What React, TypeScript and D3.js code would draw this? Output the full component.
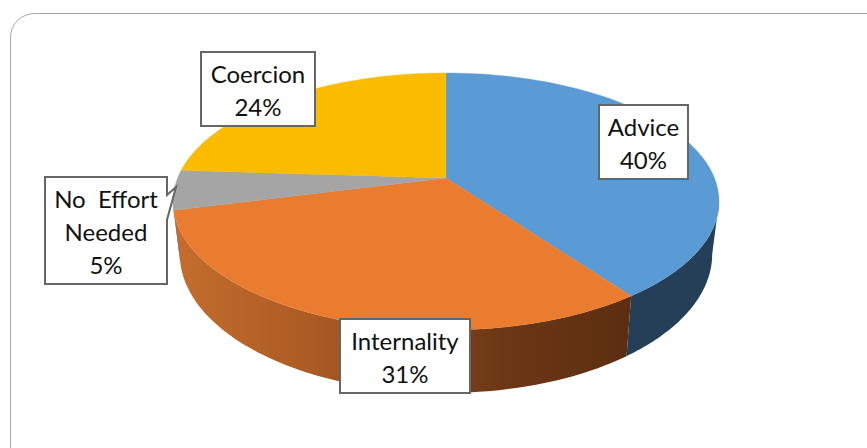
import React from "react";
import * as d3 from "d3";

// Category shares of the pie, clockwise from twelve o'clock
const categories = ["Advice", "Internality", "No Effort Needed", "Coercion"];
const shares = [40, 31, 5, 24];
const labelLines = [["Advice"], ["Internality"], ["No  Effort", "Needed"], ["Coercion"]];

const topColors = ["#5B9BD5", "#EA7C30", "#A5A5A5", "#FBBC00"];
const wallFills = ["#243F57", "url(#wall-orange)", "#6E6E6E", "#8A6A00"];
const orangeWallStops: [number, string][] = [
  [0, "#C56D2D"],
  [0.3, "#AC5B24"],
  [0.55, "#84461B"],
  [0.72, "#6B3716"],
  [1, "#5C2E10"],
];

const W = 867;
const H = 448;
const FONT = "Lato, 'Open Sans', sans-serif";

// Perspective of the disc: far rim is compressed, the centre sits above the ellipse middle
const cx = 446;
const cy = 178;
const tilt = 0.183;
const radiusX = 268.4;
const radiusY = 124.2;
const wallFrontTop = 331;
const wallFrontBottom = 394;
const wallScaleX = 0.975;
const wallScaleY = 1.08;

const rim = (theta: number): [number, number] => {
  const w = 1 + tilt * Math.cos(theta);
  return [cx + (radiusX * Math.sin(theta)) / w, cy - (radiusY * Math.cos(theta)) / w];
};
const floorRim = (theta: number): [number, number] => {
  const [x, y] = rim(theta);
  return [cx + wallScaleX * (x - cx), wallFrontBottom - wallScaleY * (wallFrontTop - y)];
};

const sweep = (a: number, b: number): number[] =>
  d3.range(0, 81).map((i) => a + ((b - a) * i) / 80);

const line = d3.line<[number, number]>();

// The wall shows between the two silhouette tangents of the disc
const wallStart = Math.acos(-tilt);
const wallEnd = 2 * Math.PI - wallStart;

const arcs = d3
  .pie<number>()
  .value((d) => d)
  .sort(null)
  .startAngle(0)
  .endAngle(2 * Math.PI)(shares);

// Label boxes, with an optional callout notch on the right side
const boxes = [
  { x: 599, y: 105, w: 89, h: 74 },
  { x: 340, y: 319, w: 130, h: 74 },
  { x: 45, y: 177, w: 122, h: 107, notch: [[167, 195], [176, 187], [167, 220]] },
  { x: 201, y: 52, w: 114, h: 74 },
];

const boxPath = (b: (typeof boxes)[number]): string => {
  const pts: [number, number][] = [[b.x, b.y], [b.x + b.w, b.y]];
  if (b.notch) b.notch.forEach((p) => pts.push(p as [number, number]));
  pts.push([b.x + b.w, b.y + b.h], [b.x, b.y + b.h]);
  return (line(pts) as string) + "Z";
};

export default function App() {
  return (
    <svg
      width={W}
      height={H}
      viewBox={`0 0 ${W} ${H}`}
      style={{ position: "absolute", left: 0, top: 0, background: "#fff" }}
    >
      <defs>
        <linearGradient id="wall-orange" gradientUnits="userSpaceOnUse" x1={173} y1={0} x2={632} y2={0}>
          {orangeWallStops.map(([o, c]) => (
            <stop key={o} offset={o} stopColor={c} />
          ))}
        </linearGradient>
      </defs>

      {/* chart frame, running off the right and bottom edges */}
      <rect x={10.5} y={13.5} width={1000} height={600} rx={24} fill="#fff" stroke="#A6A6A6" strokeWidth={1} />

      {/* side wall */}
      {arcs.map((a, i) => {
        const s = Math.max(a.startAngle, wallStart);
        const e = Math.min(a.endAngle, wallEnd);
        if (e <= s) return null;
        const pts = [...sweep(s, e).map(rim), ...sweep(e, s).map(floorRim)];
        return <path key={categories[i]} d={(line(pts) as string) + "Z"} fill={wallFills[i]} />;
      })}

      {/* top face */}
      {arcs.map((a, i) => {
        const pts: [number, number][] = [[cx, cy], ...sweep(a.startAngle, a.endAngle).map(rim)];
        return (
          <path
            key={categories[i]}
            d={(line(pts) as string) + "Z"}
            fill={topColors[i]}
            stroke={topColors[i]}
            strokeWidth={0.4}
          />
        );
      })}

      {/* data labels */}
      {boxes.map((b, i) => {
        const lines = [...labelLines[i], `${shares[i]}%`];
        const mid = b.x + b.w / 2;
        const step = 33;
        const first = b.y + b.h / 2 - ((lines.length - 1) * step) / 2 + 10;
        return (
          <g key={categories[i]}>
            <path d={boxPath(b)} fill="#fff" stroke="#666" strokeWidth={2} />
            {lines.map((t, j) => (
              <text
                key={j}
                x={mid}
                y={first + j * step}
                textAnchor="middle"
                fontFamily={FONT}
                fontSize={24}
                fill="#111"
                style={{ whiteSpace: "pre" }}
              >
                {t}
              </text>
            ))}
          </g>
        );
      })}
    </svg>
  );
}
